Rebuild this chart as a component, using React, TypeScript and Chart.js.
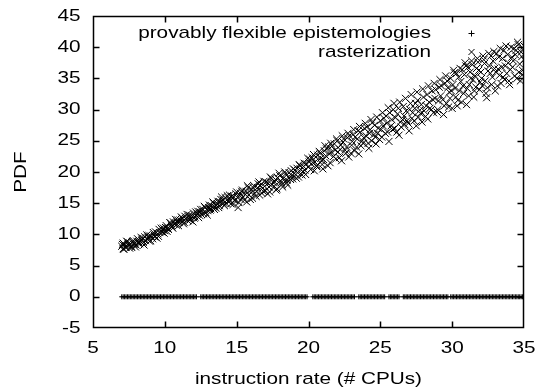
import React, { useEffect, useRef } from 'react';
import { Chart, registerables } from 'chart.js';

Chart.register(...registerables);

const xTickValues = [5, 10, 15, 20, 25, 30, 35];
const yTickValues = [-5, 0, 5, 10, 15, 20, 25, 30, 35, 40, 45];
const seriesNames = ['provably flexible epistemologies', 'rasterization'];
const xTitle = 'instruction rate (# CPUs)';
const yTitle = 'PDF';

// series 1: all values at 0 (x positions)
const flatX = [
  7.0, 7.1, 7.2, 7.3, 7.4, 7.5, 7.6, 7.7, 7.8, 7.9, 8.0, 8.1, 8.2, 8.3, 8.4, 8.5, 8.6, 8.7,
  8.8, 8.9, 9.0, 9.1, 9.2, 9.3, 9.4, 9.5, 9.6, 9.7, 9.8, 9.9, 10.0, 10.1, 10.2, 10.3, 10.4,
  10.5, 10.6, 10.7, 10.8, 10.9, 11.0, 11.1, 11.2, 11.3, 11.4, 11.5, 11.6, 11.7, 11.8, 11.9,
  12.0, 12.1, 12.2, 12.5, 12.6, 12.7, 12.8, 12.9, 13.0, 13.1, 13.2, 13.3, 13.4, 13.5, 13.6,
  13.7, 13.8, 13.9, 14.0, 14.1, 14.2, 14.3, 14.4, 14.5, 14.6, 14.7, 14.8, 14.9, 15.0, 15.1,
  15.2, 15.3, 15.4, 15.5, 15.6, 15.7, 15.8, 15.9, 16.0, 16.1, 16.2, 16.3, 16.4, 16.5, 16.6,
  16.7, 16.8, 16.9, 17.0, 17.1, 17.2, 17.3, 17.4, 17.5, 17.6, 17.7, 17.8, 17.9, 18.0, 18.1,
  18.2, 18.3, 18.4, 18.5, 18.6, 18.7, 18.8, 18.9, 19.0, 19.1, 19.2, 19.3, 19.4, 19.5, 19.6,
  19.7, 19.8, 19.9, 20.3, 20.4, 20.5, 20.6, 20.7, 20.8, 20.9, 21.0, 21.1, 21.2, 21.3, 21.4,
  21.5, 21.6, 21.7, 21.8, 21.9, 22.0, 22.1, 22.2, 22.3, 22.4, 22.5, 22.6, 22.7, 22.8, 22.9,
  23.0, 23.1, 23.2, 23.5, 23.6, 23.7, 23.8, 23.9, 24.0, 24.1, 24.2, 24.3, 24.4, 24.5, 24.6,
  24.7, 24.8, 24.9, 25.0, 25.1, 25.2, 25.3, 25.6, 25.7, 25.8, 25.9, 26.0, 26.1, 26.2, 26.3,
  26.6, 26.7, 26.8, 26.9, 27.0, 27.1, 27.2, 27.3, 27.4, 27.5, 27.6, 27.7, 27.8, 27.9, 28.0,
  28.1, 28.2, 28.3, 28.4, 28.5, 28.6, 28.7, 28.8, 28.9, 29.0, 29.1, 29.2, 29.3, 29.4, 29.5,
  29.6, 29.7, 29.9, 30.0, 30.1, 30.2, 30.3, 30.4, 30.5, 30.6, 30.7, 30.8, 30.9, 31.0, 31.1,
  31.2, 31.3, 31.4, 31.5, 31.6, 31.7, 31.8, 31.9, 32.0, 32.1, 32.2, 32.3, 32.4, 32.5, 32.6,
  32.7, 32.8, 32.9, 33.0, 33.1, 33.2, 33.3, 33.4, 33.5, 33.6, 33.7, 33.8, 33.9, 34.0, 34.1,
  34.2, 34.3, 34.4, 34.5, 34.6, 34.7, 34.8, 34.9, 35.0,
];
const flatY = flatX.map(() => 0);

// series 2: [x, y] pairs
const rasterization: [number, number][] = [
  [7.0, 8.1], [7.1, 7.7], [7.1, 8.6], [7.2, 8.3], [7.3, 7.9], [7.4, 8.8], [7.5, 8.2], [7.6, 8.5],
  [7.7, 7.9], [7.8, 9.0], [7.9, 8.6], [8.0, 8.3], [8.1, 9.3], [8.2, 8.8], [8.4, 9.1], [8.5, 8.7],
  [8.6, 9.6], [8.8, 9.2], [8.9, 9.8], [9.0, 9.0], [9.2, 10.3], [9.3, 9.6], [9.5, 10.1], [9.6, 10.8],
  [9.8, 10.4], [9.9, 11.0],
  [10.0, 10.6], [10.1, 11.4], [10.2, 11.0], [10.4, 11.8], [10.5, 11.2], [10.6, 12.0], [10.8, 11.5],
  [10.9, 12.3], [11.0, 11.9], [11.2, 12.6], [11.3, 11.7], [11.4, 12.9], [11.6, 12.2], [11.7, 13.1],
  [11.8, 12.6], [12.0, 13.4], [12.1, 12.8], [12.3, 13.7], [12.4, 13.1], [12.5, 14.0], [12.7, 13.3],
  [12.8, 14.3], [13.0, 13.8], [13.1, 14.7], [13.2, 14.1], [13.4, 15.0], [13.5, 14.4], [13.7, 15.3],
  [13.8, 14.6], [13.9, 15.6], [14.1, 15.0], [14.2, 15.9], [14.4, 15.3], [14.5, 16.3], [14.6, 14.9],
  [14.8, 16.0], [14.9, 15.5], [15.0, 16.8], [15.1, 14.3], [15.2, 16.2],
  [15.3, 15.6], [15.4, 17.1], [15.6, 16.4], [15.7, 15.2], [15.8, 17.5], [16.0, 16.7], [16.1, 15.8],
  [16.2, 17.8], [16.4, 16.9], [16.5, 18.1], [16.6, 16.3], [16.8, 17.4], [16.9, 18.5], [17.0, 17.0],
  [17.2, 18.2], [17.3, 16.8], [17.4, 19.0], [17.6, 17.7], [17.7, 18.8], [17.8, 17.3], [18.0, 19.4],
  [18.1, 18.3], [18.2, 17.6], [18.4, 19.7], [18.5, 18.7], [18.6, 19.2], [18.8, 20.2], [18.9, 18.9],
  [19.0, 19.8], [19.2, 20.6], [19.3, 19.2], [19.4, 21.0], [19.6, 20.1], [19.7, 21.4], [19.8, 19.6],
  [20.0, 20.8], [20.1, 22.0], [20.2, 21.3], [20.4, 20.2], [20.5, 22.4], [20.6, 21.0], [20.8, 23.0],
  [20.9, 21.8], [21.0, 20.5], [21.1, 23.4],
  [21.2, 22.6], [21.4, 24.0], [21.5, 21.5], [21.6, 23.2], [21.8, 24.5], [21.9, 22.1], [22.0, 25.0],
  [22.2, 23.6], [22.3, 21.8], [22.4, 24.8], [22.6, 23.0], [22.7, 25.5], [22.8, 22.4], [23.0, 24.3],
  [23.1, 26.0], [23.2, 23.4], [23.4, 25.3], [23.5, 22.9], [23.6, 26.4], [23.8, 24.6], [23.9, 27.0],
  [24.0, 25.8], [24.2, 23.8], [24.3, 26.8], [24.4, 25.0], [24.6, 27.5], [24.7, 24.5], [24.8, 26.2],
  [25.0, 28.2], [25.1, 25.6], [25.2, 27.4], [25.4, 29.0], [25.5, 26.4], [25.6, 24.9], [25.8, 28.4],
  [25.9, 30.0], [26.0, 27.0], [26.2, 29.3], [26.3, 25.9], [26.4, 28.0], [26.6, 30.5], [26.7, 27.6],
  [26.8, 29.8], [27.0, 26.6], [27.1, 31.0],
  [27.2, 28.6], [27.4, 30.2], [27.5, 27.4], [27.6, 31.5], [27.8, 29.4], [27.9, 28.0], [28.0, 32.0],
  [28.2, 30.6], [28.3, 28.5], [28.4, 31.2], [28.6, 33.0], [28.7, 29.5], [28.8, 31.8], [29.0, 30.0],
  [29.1, 33.6], [29.2, 32.2], [29.4, 29.2], [29.5, 34.2], [29.6, 31.0], [29.8, 32.8], [29.9, 35.0],
  [30.0, 30.2], [30.2, 33.4], [30.3, 35.8], [30.4, 31.5], [30.6, 34.5], [30.7, 36.4], [30.8, 32.6],
  [31.0, 30.8], [31.1, 36.8],
  [31.2, 34.0], [31.4, 37.2], [31.5, 32.0], [31.6, 35.4], [31.8, 37.6], [31.9, 33.2], [32.0, 36.0],
  [32.2, 38.0], [32.3, 34.6], [32.4, 31.9], [32.6, 37.0], [32.7, 38.6], [32.8, 35.2], [33.0, 33.0],
  [33.1, 39.0], [33.2, 36.5], [33.4, 34.2], [33.5, 38.2], [33.6, 39.5], [33.8, 35.8], [33.9, 37.5],
  [34.0, 34.0], [34.1, 40.0], [34.2, 36.8], [34.4, 38.8], [34.5, 35.0], [34.6, 40.4], [34.7, 37.3],
  [34.8, 39.2], [34.9, 35.6], [35.0, 38.0], [35.0, 40.2], [34.9, 36.3], [34.3, 39.8], [33.7, 37.0],
  [33.3, 35.5], [32.9, 39.3], [32.5, 36.2], [32.1, 33.8], [31.7, 36.6], [31.3, 35.0], [30.9, 37.5],
  [30.5, 33.0], [30.1, 36.3], [29.7, 33.5],
  [7.05, 8.4], [7.25, 8.0], [7.45, 8.5], [7.65, 8.1], [7.85, 8.4], [8.05, 8.9], [8.25, 8.5],
  [8.45, 9.4], [8.65, 9.0], [8.85, 9.5], [9.05, 9.7], [9.25, 9.9], [9.45, 9.4], [9.65, 10.3],
  [9.85, 10.7], [10.05, 11.1], [10.25, 10.8], [10.45, 11.5], [10.65, 11.7], [10.85, 12.0],
  [11.05, 12.3], [11.25, 12.1], [11.45, 12.5], [11.65, 12.8], [11.85, 13.0], [12.05, 12.6],
  [12.25, 13.3], [12.45, 13.6], [12.65, 14.0], [12.85, 13.5], [13.05, 14.3], [13.25, 14.6],
  [13.45, 14.0], [13.65, 14.9], [13.85, 15.2], [14.05, 15.5], [14.25, 15.0], [14.45, 15.8],
  [14.65, 16.1], [14.85, 15.4], [15.05, 15.9], [15.25, 16.6], [15.45, 16.0], [15.65, 16.9],
  [15.85, 16.3], [16.05, 17.2], [16.25, 16.6], [16.45, 17.5], [16.65, 17.8], [16.85, 16.9],
  [17.05, 18.4], [17.25, 17.6], [17.45, 18.0], [17.65, 18.4], [17.85, 19.1], [18.05, 18.6],
  [18.25, 19.0], [18.45, 18.3], [18.65, 19.9], [18.85, 19.4], [19.05, 20.3], [19.25, 19.9],
  [19.45, 20.4], [19.65, 20.9], [19.85, 21.3], [20.05, 21.6], [20.25, 22.3], [20.45, 21.6],
  [20.65, 22.7], [20.85, 22.2], [21.05, 22.0], [21.25, 23.7], [21.45, 22.9], [21.65, 24.2],
  [21.85, 23.5], [22.05, 23.2], [22.25, 24.3], [22.45, 25.3], [22.65, 24.0], [22.85, 25.8],
  [23.05, 24.9], [23.25, 25.6], [23.45, 26.6], [23.65, 24.2], [23.85, 25.5], [24.05, 27.2],
  [24.25, 26.2], [24.45, 27.9], [24.65, 25.6], [24.85, 27.0], [25.05, 26.8], [25.25, 28.6],
  [25.45, 27.8], [25.65, 29.5], [25.85, 26.8], [26.05, 28.7], [26.25, 30.2], [26.45, 27.2],
  [26.65, 29.0], [26.85, 28.2], [27.05, 30.0], [27.25, 29.5], [27.45, 31.0], [27.65, 28.8],
  [27.85, 30.8], [28.05, 29.8], [28.25, 32.4], [28.45, 30.2], [28.65, 31.6], [28.85, 33.2],
  [29.05, 31.4], [29.25, 33.8], [29.45, 30.6], [29.65, 34.6], [29.85, 31.8], [30.05, 34.0],
  [30.25, 32.0], [30.45, 35.2], [30.65, 31.2], [30.85, 35.6], [31.05, 33.4], [31.25, 36.0],
  [31.45, 34.8], [31.65, 33.6], [31.85, 36.3], [32.05, 35.0], [32.25, 37.4], [32.45, 33.5],
  [32.65, 35.8], [32.85, 37.8], [33.05, 36.0], [33.25, 38.4], [33.45, 36.8], [33.65, 34.8],
  [33.85, 38.8], [34.05, 36.4], [34.25, 37.8], [34.45, 39.5], [34.65, 36.0], [34.85, 38.5],
  [7.15, 7.6], [7.35, 8.9], [7.55, 7.8], [7.75, 8.8], [7.95, 8.0], [8.15, 8.6], [8.35, 9.5],
  [8.55, 8.3], [8.75, 9.9], [8.95, 8.9], [9.15, 9.3], [9.35, 10.4], [9.55, 9.7], [9.75, 11.0],
  [9.95, 10.2], [10.15, 10.5], [10.35, 11.9], [10.55, 11.0], [10.75, 12.4], [10.95, 11.4],
  [11.15, 12.8], [11.35, 11.9], [11.55, 13.2], [11.75, 12.3], [11.95, 12.0], [12.15, 13.6],
  [12.35, 12.7], [12.55, 13.2], [12.75, 14.5], [12.95, 13.1], [13.15, 13.9], [13.35, 15.2],
  [13.55, 14.2], [13.75, 14.3], [13.95, 16.0], [14.15, 14.6], [14.35, 16.2], [14.55, 15.4],
  [14.75, 14.8], [14.95, 16.5], [15.15, 15.1], [15.35, 16.9], [15.55, 15.5], [15.75, 17.8],
  [15.95, 15.6], [16.15, 17.5], [16.35, 16.1], [16.55, 18.4], [16.75, 16.6], [16.95, 17.7],
  [17.15, 16.5], [17.35, 19.2], [17.55, 18.3], [17.75, 17.1], [17.95, 19.8], [18.15, 18.0],
  [18.35, 20.0], [18.55, 17.9], [18.75, 18.8], [18.95, 20.5], [19.15, 19.0], [19.35, 21.2],
  [19.55, 19.5], [19.75, 20.3], [19.95, 22.2], [20.15, 20.4], [20.35, 22.8], [20.55, 20.9],
  [20.75, 23.3], [20.95, 21.2], [21.15, 24.2], [21.35, 21.0], [21.55, 24.6], [21.75, 22.5],
  [21.95, 25.3], [22.15, 22.3], [22.35, 25.8], [22.55, 23.5], [22.75, 26.2], [22.95, 23.0],
  [23.15, 26.8], [23.35, 24.0], [23.55, 27.3], [23.75, 25.0], [23.95, 27.8], [24.15, 24.6],
  [24.35, 28.4], [24.55, 26.0], [24.75, 28.8], [24.95, 25.2], [25.15, 29.5], [25.35, 26.2],
  [25.55, 30.3], [25.75, 27.4], [25.95, 31.0], [26.15, 26.4], [26.35, 31.2], [26.55, 28.4],
  [26.75, 31.8], [26.95, 27.8], [27.15, 32.4], [27.35, 28.2], [27.55, 32.8], [27.75, 29.9],
  [27.95, 33.3], [28.15, 28.9], [28.35, 33.8], [28.55, 30.0], [28.75, 34.2], [28.95, 29.6],
  [29.15, 34.8], [29.35, 31.6], [29.55, 35.4], [29.75, 30.4], [29.95, 33.0], [30.15, 35.9],
  [30.35, 30.6], [30.55, 36.6], [30.75, 33.8], [30.95, 37.0], [31.15, 32.2], [31.35, 37.8],
  [31.55, 33.0], [31.75, 38.2], [31.95, 34.4], [32.15, 38.6], [32.35, 32.6], [32.55, 39.0],
  [32.75, 34.0], [32.95, 36.6], [33.15, 33.8], [33.35, 39.8], [33.55, 35.2], [33.75, 40.2],
  [33.95, 34.6], [34.15, 38.4], [34.35, 35.4], [34.55, 40.8], [34.75, 34.6], [34.95, 39.8],
];

const FONT_FAMILY = '"Liberation Sans", Arial, Helvetica, sans-serif';
const FONT_SIZE = 17;
const STRETCH_X = 1.22;

export default function App() {
  const ref = useRef<HTMLCanvasElement>(null);

  useEffect(() => {
    document.body.style.margin = '0';
    const canvas = ref.current as HTMLCanvasElement;
    const ctx = canvas.getContext('2d') as CanvasRenderingContext2D;
    const origFill = ctx.fillText;
    // the reference's font is wide: stretch glyphs horizontally about their anchor
    (ctx as any).fillText = function (text: string, x: number, y: number) {
      this.save();
      this.translate(x, y);
      this.scale(STRETCH_X, 1);
      origFill.call(this, text, 0, 0);
      this.restore();
    };

    const framePlugin = {
      id: 'gnuframe',
      afterDraw(chart: any) {
        const c = chart.ctx as CanvasRenderingContext2D;
        const area = chart.chartArea;
        const xs = chart.scales.x;
        const ys = chart.scales.y;
        const L = Math.round(area.left) + 0.5;
        const R = Math.round(area.right) - 0.5;
        const T = Math.round(area.top) + 0.5;
        const B = Math.round(area.bottom) - 0.5;
        c.save();
        c.strokeStyle = '#000';
        c.lineWidth = 1.5;
        c.lineCap = 'butt';
        c.beginPath();
        c.rect(L, T, R - L, B - T);
        const tl = 6;
        for (const v of xTickValues) {
          const px = Math.min(Math.max(Math.round(xs.getPixelForValue(v)) + 0.5, L), R);
          c.moveTo(px, B);
          c.lineTo(px, B - tl);
          c.moveTo(px, T);
          c.lineTo(px, T + tl);
        }
        for (const v of yTickValues) {
          const py = Math.min(Math.max(Math.round(ys.getPixelForValue(v)) + 0.5, T), B);
          c.moveTo(L, py);
          c.lineTo(L + tl, py);
          c.moveTo(R, py);
          c.lineTo(R - tl, py);
        }
        c.stroke();

        // legend
        c.lineWidth = 1;
        c.fillStyle = '#000';
        c.font = `${FONT_SIZE}px ${FONT_FAMILY}`;
        c.textAlign = 'right';
        c.textBaseline = 'middle';
        const textRight = 431;
        const markX = 471.5;
        const rows = [33, 52];
        c.fillText(seriesNames[0], textRight, rows[0]);
        c.fillText(seriesNames[1], textRight, rows[1]);
        c.beginPath();
        c.moveTo(markX - 3, rows[0] + 0.5);
        c.lineTo(markX + 3, rows[0] + 0.5);
        c.moveTo(markX, rows[0] - 2.5);
        c.lineTo(markX, rows[0] + 3.5);
        c.moveTo(markX - 3, rows[1] - 3);
        c.lineTo(markX + 3, rows[1] + 3);
        c.moveTo(markX + 3, rows[1] - 3);
        c.lineTo(markX - 3, rows[1] + 3);
        c.stroke();
        c.restore();
      },
    };

    const font = { family: FONT_FAMILY, size: FONT_SIZE };

    const chart = new Chart(ctx, {
      type: 'scatter',
      data: {
        datasets: [
          {
            label: seriesNames[0],
            data: flatX.map((x, i) => ({ x, y: flatY[i] })),
            pointStyle: 'cross',
            pointRadius: 2.5,
            borderColor: '#000',
          },
          {
            label: seriesNames[1],
            data: rasterization.map(([x, y]) => ({ x, y })),
            pointStyle: 'crossRot',
            pointRadius: 5,
            borderColor: '#000',
          },
        ],
      },
      options: {
        responsive: false,
        animation: false,
        devicePixelRatio: 1,
        events: [],
        layout: { padding: { top: 16, right: 21, left: 0, bottom: 0 } },
        plugins: {
          legend: { display: false },
          tooltip: { enabled: false },
        },
        scales: {
          x: {
            type: 'linear',
            min: 5,
            max: 35,
            afterFit: (s: any) => {
              s.height = 62;
              s.paddingLeft = 0;
              s.paddingRight = 0;
            },
            afterBuildTicks: (s: any) => {
              s.ticks = xTickValues.map((v) => ({ value: v }));
            },
            ticks: { font, color: '#000', padding: 10, maxRotation: 0 },
            grid: { display: false, drawTicks: false },
            border: { display: false },
            title: {
              display: true,
              text: xTitle,
              font,
              color: '#000',
              padding: { top: 0, bottom: 0 },
            },
          },
          y: {
            type: 'linear',
            min: -5,
            max: 45,
            afterFit: (s: any) => {
              s.width = 93;
              s.paddingTop = 0;
              s.paddingBottom = 0;
            },
            afterBuildTicks: (s: any) => {
              s.ticks = yTickValues.map((v) => ({ value: v }));
            },
            ticks: { font, color: '#000', padding: 12.5 },
            grid: { display: false, drawTicks: false },
            border: { display: false },
            title: {
              display: true,
              text: yTitle,
              font,
              color: '#000',
              padding: { top: 11, bottom: 0 },
            },
          },
        },
      },
      plugins: [framePlugin],
    });

    return () => {
      chart.destroy();
      (ctx as any).fillText = origFill;
    };
  }, []);

  return <canvas ref={ref} width={545} height={390} style={{ display: 'block' }} />;
}
